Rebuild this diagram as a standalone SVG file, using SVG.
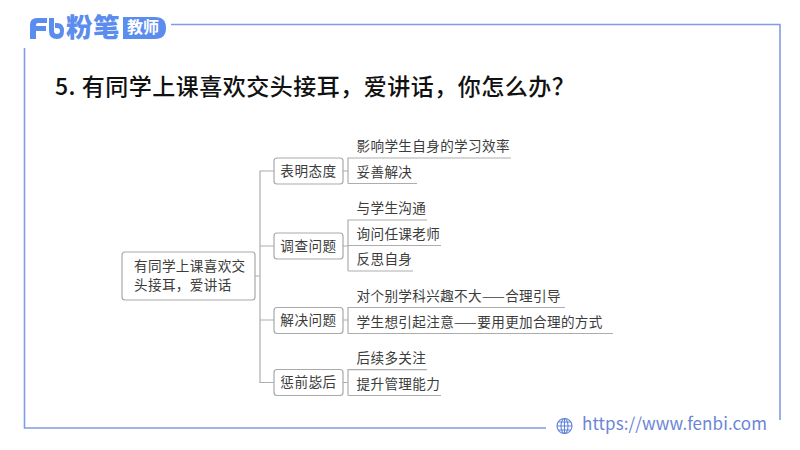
<svg xmlns="http://www.w3.org/2000/svg" width="800" height="450" viewBox="0 0 800 450">
<style>
text{font-family:"Noto Sans CJK SC","Noto Sans",sans-serif}
.frame{fill:none;stroke:#7f9de6;stroke-width:1.6}
.box{fill:#fff;stroke:#a9a9a9;stroke-width:1.2}
.ln{fill:none;stroke:#adadad;stroke-width:1.2}
.t{font-size:13.6px;fill:#3c3c3c;letter-spacing:.35px}
.b{font-size:13.6px;fill:#3c3c3c;text-anchor:middle;letter-spacing:.5px}
.g{fill:none;stroke:#5f83d8;stroke-width:1.1}
</style>
<rect width="800" height="450" fill="#fff"/>
<g id="frame">
<path class="frame" d="M171 24.500H780V420M24.500 48V428H546"/>
</g>
<g id="logo">
<path fill="#5b8dee" d="M30 39V25Q30 18 37 18H47V23H38Q36 23 36 25V26H46V31H36V39ZM49 18H54V31Q54 34 57 34Q60 34 60 31Q60 28 57 28H55V23H57Q64 23 64 31Q64 39 57 39Q49 39 49 31Z"/>
<text x="66" y="36.500" font-size="26.500" font-weight="900" fill="#5b8dee" style="letter-spacing:.5px">粉笔</text>
<path fill="#5b8dee" d="M123 17H155Q166 17 166 28Q166 39 155 39H123Z"/>
<text x="127" y="33" font-size="16" font-weight="700" fill="#fff">教师</text>
</g>
<text id="title" x="55" y="95" font-size="23" font-weight="500" fill="#111" style="letter-spacing:.5px">5. 有同学上课喜欢交头接耳，爱讲话，你怎么办？</text>
<g id="connectors">
<path class="ln" d="M255 276H260M265 171H260V382.500H274M260 246H274M260 320H274M265 171H274"/>
<path class="ln" d="M343 171H348M348 183.500V158H511M348 183.500H417"/>
<path class="ln" d="M343 246H348M348 271V220H427M348 245.500H441M348 271H413"/>
<path class="ln" d="M343 320H348M348 333.500V307.500H565M348 333.500H613"/>
<path class="ln" d="M343 382.500H348M348 395.500V369.700H427M348 395.500H441"/>
</g>
<g id="root">
<rect class="box" x="122" y="252" width="133" height="48" rx="3"/>
<text class="t" x="134" y="271">有同学上课喜欢交</text>
<text class="t" x="134" y="290">头接耳，爱讲话</text>
</g>
<g id="n1"><rect class="box" x="274" y="158" width="69" height="26" rx="3"/><text class="b" x="308.500" y="175.500">表明态度</text></g>
<g id="n2"><rect class="box" x="274" y="233" width="69" height="26" rx="3"/><text class="b" x="308.500" y="250.500">调查问题</text></g>
<g id="n3"><rect class="box" x="274" y="307.500" width="69" height="26" rx="3"/><text class="b" x="308.500" y="325">解决问题</text></g>
<g id="n4"><rect class="box" x="274" y="369.500" width="69" height="26" rx="3"/><text class="b" x="308.500" y="387">惩前毖后</text></g>
<g id="l1"><text class="t" x="356.500" y="151">影响学生自身的学习效率</text></g>
<g id="l2"><text class="t" x="356.500" y="177">妥善解决</text></g>
<g id="l3"><text class="t" x="356.500" y="213">与学生沟通</text></g>
<g id="l4"><text class="t" x="356.500" y="239">询问任课老师</text></g>
<g id="l5"><text class="t" x="356.500" y="264">反思自身</text></g>
<g id="l6"><text class="t" x="356.500" y="301">对个别学科兴趣不大——合理引导</text></g>
<g id="l7"><text class="t" x="356.500" y="327">学生想引起注意——要用更加合理的方式</text></g>
<g id="l8"><text class="t" x="356.500" y="363">后续多关注</text></g>
<g id="l9"><text class="t" x="356.500" y="389">提升管理能力</text></g>
<g id="footer">
<circle class="g" cx="564.500" cy="426" r="7.500"/>
<ellipse class="g" cx="564.500" cy="426" rx="3.500" ry="7.500"/>
<path class="g" d="M564.500 418.500V433.500M557 426H572M558 422H571M558 430H571"/>
<text x="582" y="430" font-size="17" fill="#6a85d6" textLength="185" lengthAdjust="spacing">https://www.fenbi.com</text>
</g>
</svg>
